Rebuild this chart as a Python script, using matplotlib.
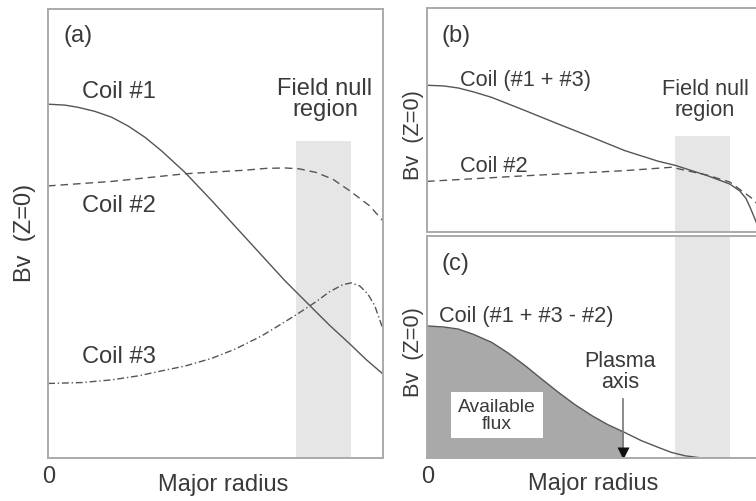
import matplotlib
matplotlib.use("Agg")
import matplotlib.pyplot as plt
from matplotlib.patches import Rectangle

plt.rcParams["font.family"] = ["Liberation Sans", "DejaVu Sans"]

# ---- data (x: major radius 0..1, y: Bv scaled 0..1) ----
# panel (a)
coil1_x = [0.0, 0.05, 0.09, 0.14, 0.19, 0.24, 0.29, 0.339, 0.409, 0.489, 0.588, 0.707, 0.782, 0.84, 0.901, 0.95, 1.0]
coil1_y = [0.788, 0.786, 0.781, 0.772, 0.759, 0.739, 0.714, 0.684, 0.636, 0.573, 0.492, 0.395, 0.339, 0.296, 0.254, 0.219, 0.187]

coil2_x = [0.0, 0.19, 0.409, 0.588, 0.65, 0.707, 0.75, 0.80, 0.85, 0.901, 0.961, 1.0]
coil2_y = [0.606, 0.616, 0.633, 0.641, 0.645, 0.646, 0.644, 0.636, 0.621, 0.595, 0.561, 0.528]

coil3_x = [0.0, 0.1, 0.19, 0.27, 0.339, 0.41, 0.489, 0.56, 0.638, 0.70, 0.747, 0.80, 0.84, 0.88, 0.905, 0.931, 0.955, 0.975, 1.0]
coil3_y = [0.166, 0.168, 0.174, 0.183, 0.194, 0.205, 0.222, 0.243, 0.272, 0.300, 0.322, 0.348, 0.370, 0.386, 0.390, 0.383, 0.365, 0.340, 0.287]

# panel (b)
sum13_x = [0.0, 0.05, 0.093, 0.14, 0.193, 0.293, 0.392, 0.492, 0.591, 0.69, 0.74, 0.836, 0.904, 0.934, 0.952, 0.964, 0.979, 0.994]
sum13_y = [0.655, 0.652, 0.643, 0.625, 0.601, 0.542, 0.482, 0.423, 0.363, 0.316, 0.298, 0.252, 0.214, 0.183, 0.150, 0.112, 0.058, 0.0]

b_coil2_x = [0.0, 0.293, 0.591, 0.73, 0.836, 0.904, 0.943, 0.973, 1.0]
b_coil2_y = [0.226, 0.251, 0.274, 0.289, 0.254, 0.223, 0.180, 0.147, 0.100]

# panel (c)
net_x = [0.0, 0.05, 0.093, 0.14, 0.193, 0.243, 0.293, 0.342, 0.392, 0.442, 0.492, 0.54, 0.586, 0.64, 0.69, 0.73, 0.77, 0.82, 1.0]
net_y = [0.595, 0.590, 0.581, 0.556, 0.521, 0.472, 0.416, 0.356, 0.296, 0.240, 0.191, 0.150, 0.118, 0.078, 0.048, 0.025, 0.010, 0.0, 0.0]

null_region = (0.74, 0.905)
plasma_axis = 0.586

line_c = "#555555"
text_c = "#3a3a3a"
spine_c = "#aaaaaa"
shade_c = "#e6e6e6"

fig = plt.figure(figsize=(7.56, 5.02), dpi=100)
W, H = 756, 502


def add_axes(left, top, right, bottom):
    ax = fig.add_axes([left / W, 1 - bottom / H, (right - left) / W, (bottom - top) / H])
    ax.set_xlim(0, 1)
    ax.set_ylim(0, 1)
    ax.set_xticks([])
    ax.set_yticks([])
    for s in ax.spines.values():
        s.set_color(spine_c)
        s.set_linewidth(1.4)
    return ax


ax_a = add_axes(48, 10, 383, 459)
ax_b = add_axes(427, 9, 762, 233)
ax_c = add_axes(427, 237, 762, 459)

# ---- (a) ----
ax_a.add_patch(Rectangle((null_region[0], 0), null_region[1] - null_region[0], 0.707,
                         color=shade_c, lw=0, zorder=0))
ax_a.plot(coil1_x, coil1_y, color=line_c, lw=1.0)
ax_a.plot(coil2_x, coil2_y, color=line_c, lw=1.0, dashes=(5.5, 3.5))
ax_a.plot(coil3_x, coil3_y, color=line_c, lw=1.0, dashes=(5, 2, 1, 2))

ax_a.text(0.09, 0.942, "(a)", fontsize=17, color=text_c, ha="center", va="center")
ax_a.text(0.101, 0.817, "Coil #1", fontsize=17, color=text_c, va="center")
ax_a.text(0.101, 0.563, "Coil #2", fontsize=17, color=text_c, va="center")
ax_a.text(0.101, 0.227, "Coil #3", fontsize=17, color=text_c, va="center")
ax_a.text(0.827, 0.80, "Field null\nregion", fontsize=17, color=text_c,
          ha="center", va="center", linespacing=0.95)

# ---- (b) ----
ax_b.add_patch(Rectangle((null_region[0], 0), null_region[1] - null_region[0], 0.429,
                         color=shade_c, lw=0, zorder=0))
ax_b.plot(sum13_x, sum13_y, color=line_c, lw=1.0)
ax_b.plot(b_coil2_x, b_coil2_y, color=line_c, lw=1.0, dashes=(5.5, 3.5))

ax_b.text(0.087, 0.879, "(b)", fontsize=17, color=text_c, ha="center", va="center")
ax_b.text(0.099, 0.683, "Coil (#1 + #3)", fontsize=15.7, color=text_c, va="center")
ax_b.text(0.099, 0.295, "Coil #2", fontsize=15.7, color=text_c, va="center")
ax_b.text(0.83, 0.594, "Field null\nregion", fontsize=15.7, color=text_c,
          ha="center", va="center", linespacing=0.95)

# ---- (c) ----
ax_c.add_patch(Rectangle((null_region[0], 0), null_region[1] - null_region[0], 1.0,
                         color=shade_c, lw=0, zorder=0))
fill_x = [x for x in net_x if x <= plasma_axis]
fill_y = net_y[:len(fill_x)]
ax_c.fill_between(fill_x, fill_y, 0, color="#a9a9a9", lw=0)
ax_c.plot(net_x, net_y, color=line_c, lw=1.0)

# plasma axis marker: grey stem with a dark head
ax_c.plot([plasma_axis, plasma_axis], [0.03, 0.266], color="#777777", lw=1.2)
ax_c.plot([plasma_axis], [0.022], marker="v", ms=8, color="#111111", mec="none")
ax_c.text(0.576, 0.392, "Plasma\naxis", fontsize=15.5, color=text_c,
          ha="center", va="center", linespacing=0.95)
ax_c.text(0.209, 0.194, "Available\nflux", fontsize=13.9, color=text_c,
          ha="center", va="center", linespacing=0.95,
          bbox=dict(boxstyle="square,pad=0.35", fc="white", ec="none"))

ax_c.text(0.084, 0.878, "(c)", fontsize=17, color=text_c, ha="center", va="center")
ax_c.text(0.036, 0.644, "Coil (#1 + #3 - #2)", fontsize=15.7, color=text_c, va="center")

# ---- axis labels (figure coords) ----
def ftext(px, py, s, **kw):
    fig.text(px / W, 1 - py / H, s, color=text_c, ha="center", va="center", **kw)


ftext(25, 233, "Bv  (Z=0)", fontsize=17, rotation=90)
ftext(413, 135, "Bv  (Z=0)", fontsize=15.7, rotation=90)
ftext(413, 352, "Bv  (Z=0)", fontsize=15.7, rotation=90)
ftext(49, 477, "0", fontsize=17)
ftext(428, 477, "0", fontsize=17)
ftext(223, 485, "Major radius", fontsize=17)
ftext(593, 484, "Major radius", fontsize=17)

fig.savefig("out.png", dpi=100)
